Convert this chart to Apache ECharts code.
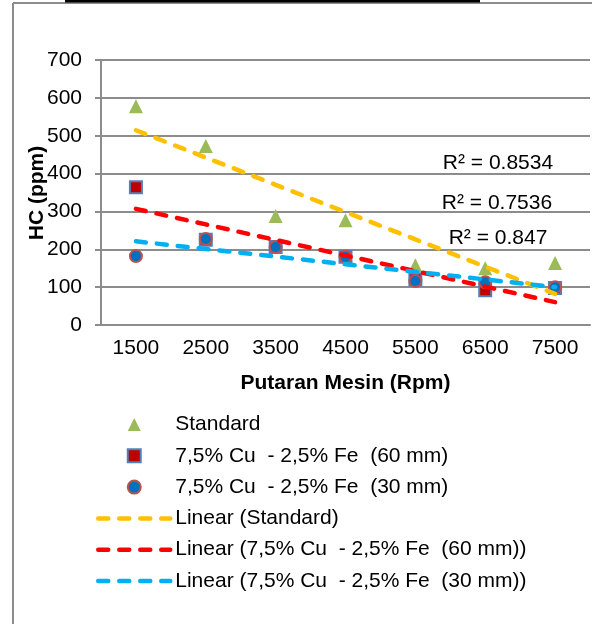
<!DOCTYPE html>
<html>
<head>
<meta charset="utf-8">
<script src="https://cdn.jsdelivr.net/npm/echarts@6/dist/echarts.min.js"></script>
<style>
  html, body { margin: 0; padding: 0; background: #fff; }
  #main { width: 592px; height: 624px; }
</style>
</head>
<body>
<div id="main"></div>
<script>
// data
var rpm = ['1500', '2500', '3500', '4500', '5500', '6500', '7500']
var standard = [578, 473, 288, 277, 158, 150, 164]
var cu60 = [364, 225, 206, 180, 120, 92, 98]
var cu30 = [182, 227, 206, 180, 116, 113, 100]
var rSquared = ['0.8534', '0.7536', '0.847']
var seriesNames = ['Standard', '7,5% Cu  - 2,5% Fe  (60 mm)', '7,5% Cu  - 2,5% Fe  (30 mm)']

// least squares trendline over category index, like Excel
function linearTrend (vals) {
  var n = vals.length
  var mx = 0, my = 0
  for (var i = 0; i < n; i++) { mx += i + 1; my += vals[i] }
  mx /= n; my /= n
  var sxy = 0, sxx = 0
  for (var j = 0; j < n; j++) {
    sxy += (j + 1 - mx) * (vals[j] - my)
    sxx += (j + 1 - mx) * (j + 1 - mx)
  }
  var slope = sxy / sxx
  return vals.map(function (v, k) { return +(my + slope * (k + 1 - mx)).toFixed(2) })
}

var font = '"Liberation Sans", Arial, sans-serif'
var gridColor = '#8c8c8c'
var dashStyle = { width: 4.5, type: [10, 11], cap: 'round' }

function trendSeries (name, vals, color) {
  return {
    name: 'Linear (' + name + ')',
    type: 'line',
    data: linearTrend(vals),
    symbol: 'none',
    silent: true,
    z: 3,
    lineStyle: Object.assign({ color: color }, dashStyle),
    itemStyle: { color: color }
  }
}

function trendLegend (name) {
  return {
    name: 'Linear (' + name + ')',
    itemStyle: { opacity: 0 },
    lineStyle: dashStyle
  }
}

var myChart = echarts.init(document.getElementById('main'), null, { renderer: 'canvas' })

var option = {
  animation: false,
  textStyle: { fontFamily: font, color: '#000' },
  grid: { left: 101, right: 2, top: 60, bottom: 299, containLabel: false },
  xAxis: {
    type: 'category',
    data: rpm,
    boundaryGap: true,
    name: 'Putaran Mesin (Rpm)',
    nameLocation: 'middle',
    nameGap: 48,
    nameMoveOverlap: false,
    nameTextStyle: { fontSize: 21, fontWeight: 'bold', color: '#000', fontFamily: font },
    axisLine: { lineStyle: { color: gridColor, width: 2 } },
    axisTick: { show: false },
    axisLabel: { fontSize: 21, color: '#000', margin: 13, fontFamily: font }
  },
  yAxis: {
    type: 'value',
    min: 0,
    max: 700,
    interval: 100,
    axisLine: { show: true, lineStyle: { color: gridColor, width: 2 } },
    axisTick: { show: true, length: 6, lineStyle: { color: gridColor, width: 2 } },
    axisLabel: { fontSize: 21, color: '#000', margin: 19, fontFamily: font },
    splitLine: { lineStyle: { color: gridColor, width: 2 } }
  },
  legend: {
    orient: 'vertical',
    left: 91,
    top: 409,
    itemWidth: 72,
    itemHeight: 13,
    itemGap: 10.3,
    symbolKeepAspect: true,
    textStyle: { fontSize: 21, color: '#000', fontFamily: font },
    data: [
      { name: seriesNames[0], icon: 'path://M1,0L2,2L0,2Z' },
      { name: seriesNames[1], icon: 'path://M0,0L2,0L2,2L0,2Z' },
      { name: seriesNames[2], icon: 'path://M0,1A1,1,0,1,1,2,1A1,1,0,1,1,0,1Z' },
      trendLegend(seriesNames[0]),
      trendLegend(seriesNames[1]),
      trendLegend(seriesNames[2])
    ]
  },
  series: [
    {
      name: seriesNames[0],
      type: 'scatter',
      data: standard,
      symbol: 'triangle',
      symbolSize: 14,
      z: 2,
      itemStyle: { color: '#9bbb59', opacity: 1 }
    },
    {
      name: seriesNames[1],
      type: 'scatter',
      data: cu60,
      symbol: 'rect',
      symbolSize: 12,
      z: 2,
      itemStyle: { color: '#c00000', borderColor: '#4f81bd', borderWidth: 2, opacity: 1 }
    },
    {
      name: seriesNames[2],
      type: 'scatter',
      data: cu30,
      symbol: 'circle',
      symbolSize: 12,
      z: 2,
      itemStyle: { color: '#0070c0', borderColor: '#c0504d', borderWidth: 2, opacity: 1 }
    },
    trendSeries(seriesNames[0], standard, '#ffc000'),
    trendSeries(seriesNames[1], cu60, '#ff0000'),
    trendSeries(seriesNames[2], cu30, '#00b0f0')
  ],
  graphic: [
    // chart frame and the bar above it
    { type: 'line', shape: { x1: 13, y1: 3, x2: 13, y2: 624 }, style: { stroke: '#8c8c8c', lineWidth: 2 } },
    { type: 'line', shape: { x1: 13, y1: 3, x2: 592, y2: 3 }, style: { stroke: '#8c8c8c', lineWidth: 2 } },
    { type: 'rect', shape: { x: 65, y: 0, width: 415, height: 2.5 }, style: { fill: '#000' } },
    // y axis title, placed by hand so it sits where the original has it
    { type: 'text', x: 37, y: 193, rotation: Math.PI / 2, style: { text: 'HC (ppm)', font: 'bold 21px ' + font, fill: '#000', textAlign: 'center', textVerticalAlign: 'middle' } },
    // R² labels of the trendlines
    { type: 'text', x: 498, y: 163, style: { text: 'R² = ' + rSquared[0], font: '21px ' + font, fill: '#000', textAlign: 'center', textVerticalAlign: 'middle' } },
    { type: 'text', x: 497, y: 203, style: { text: 'R² = ' + rSquared[1], font: '21px ' + font, fill: '#000', textAlign: 'center', textVerticalAlign: 'middle' } },
    { type: 'text', x: 498, y: 238, style: { text: 'R² = ' + rSquared[2], font: '21px ' + font, fill: '#000', textAlign: 'center', textVerticalAlign: 'middle' } }
  ]
}

myChart.setOption(option)
</script>
</body>
</html>
